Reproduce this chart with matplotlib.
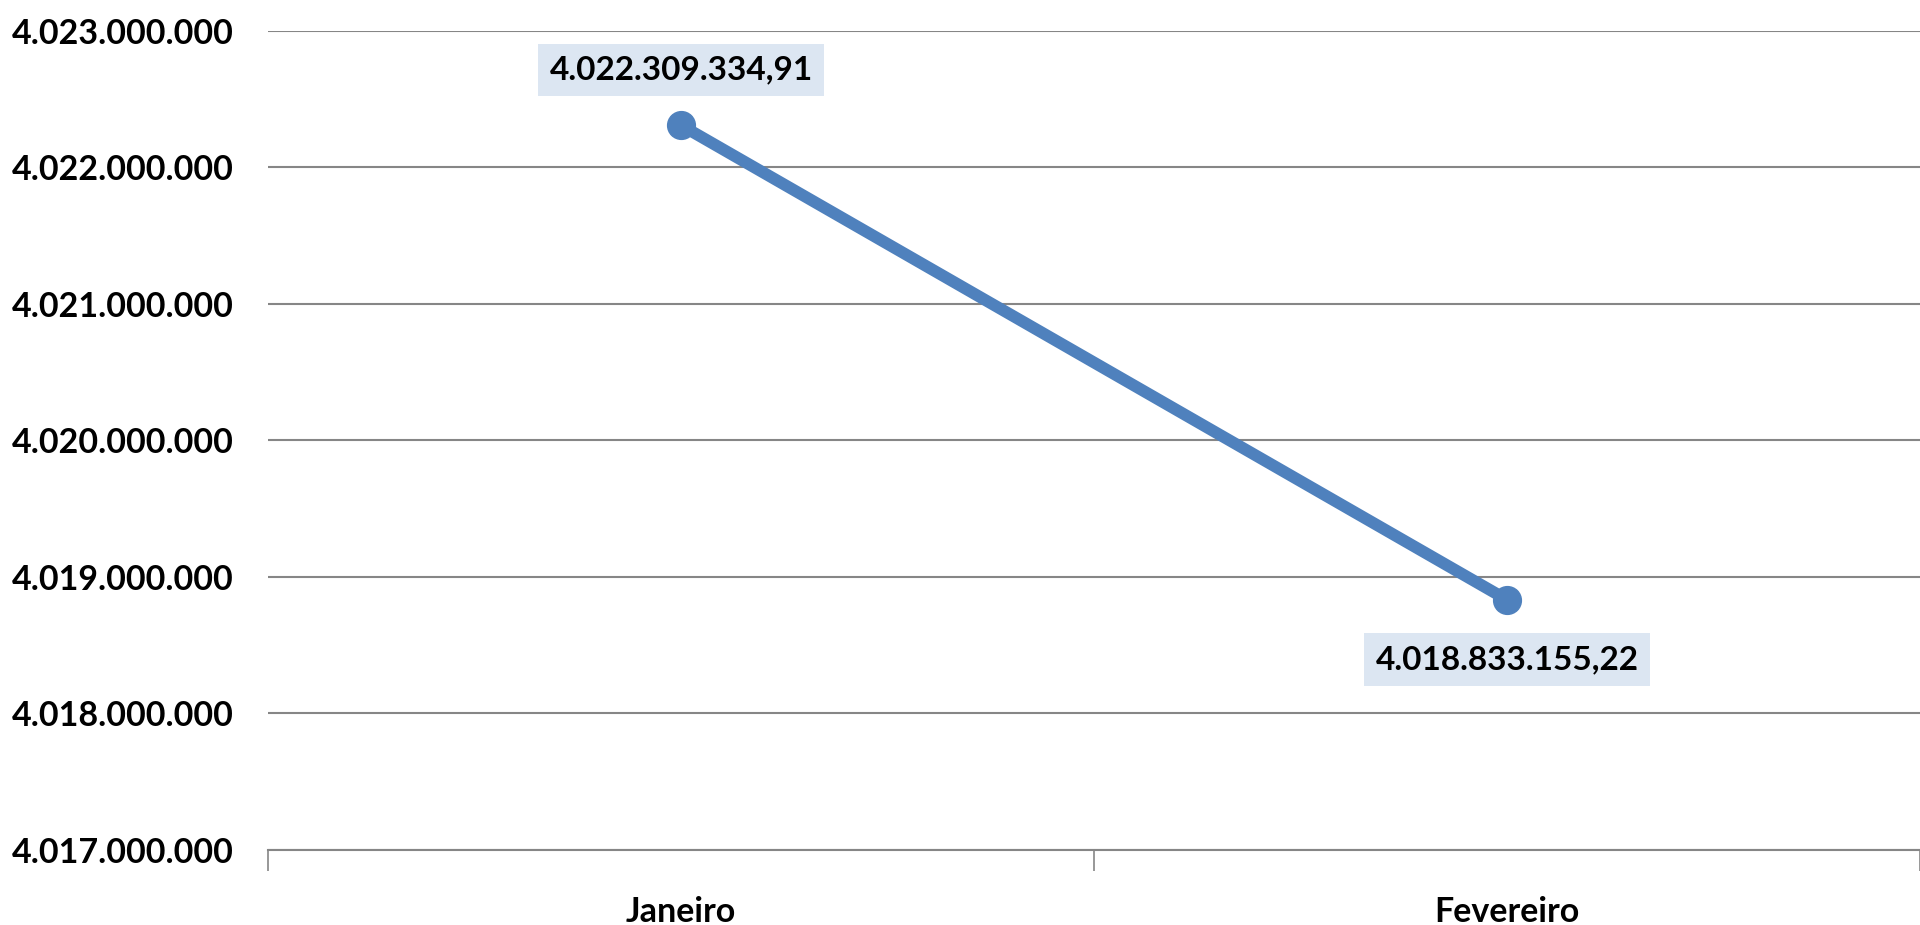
import numpy as np
import matplotlib
matplotlib.use("Agg")
import matplotlib.pyplot as plt
from matplotlib.ticker import FuncFormatter, FixedLocator

months = ["Janeiro", "Fevereiro"]
values = [4022309334.91, 4018833155.22]
yticks = [4017000000, 4018000000, 4019000000, 4020000000,
          4021000000, 4022000000, 4023000000]

BLUE = "#4F81BD"
GRID = "#868686"
plt.rcParams['font.family'] = ['Lato', 'DejaVu Sans']


def br_int(v, pos=None):
    return "{:,.0f}".format(v).replace(",", ".")


def br_dec(v):
    s = "{:,.2f}".format(v)
    return s.replace(",", "X").replace(".", ",").replace("X", ".")


fig = plt.figure(figsize=(19.2, 9.25), dpi=100)
ax = fig.add_axes([0.1396, 0.0811, 0.8604, 0.8854])

x = np.arange(len(months))
ax.plot(x, values, color=BLUE, lw=8.5, marker="o", ms=20, zorder=3,
        solid_capstyle="round")

ax.set_xlim(-0.5, len(months) - 0.5)
ax.set_ylim(yticks[0], yticks[-1])
ax.set_yticks(yticks)
ax.yaxis.set_major_formatter(FuncFormatter(br_int))
ax.yaxis.grid(True, color=GRID, lw=1.5)
ax.set_axisbelow(True)

ax.set_xticks(x)
ax.set_xticklabels(months)
ax.xaxis.set_minor_locator(FixedLocator(np.arange(-0.5, len(months), 1.0)))
ax.tick_params(axis="x", which="major", length=0, pad=33)
ax.tick_params(axis="x", which="minor", length=15, color=GRID, width=1.2,
               direction="out")
ax.tick_params(axis="y", length=0, pad=25)

for lab in ax.get_xticklabels() + ax.get_yticklabels():
    lab.set_fontsize(24.5)
    lab.set_fontweight("bold")

for side in ["top", "right", "left"]:
    ax.spines[side].set_visible(False)
ax.spines["bottom"].set_color(GRID)
ax.spines["bottom"].set_linewidth(1.5)

offsets = [40, -43]
for xi, v, off in zip(x, values, offsets):
    ax.annotate(br_dec(v), (xi, v), xytext=(0, off), textcoords="offset points",
                ha="center", va="center", fontsize=24, fontweight="bold",
                bbox=dict(boxstyle="square,pad=0.35", fc="#DCE6F2", ec="none"))

fig.savefig("out.png", dpi=100)
